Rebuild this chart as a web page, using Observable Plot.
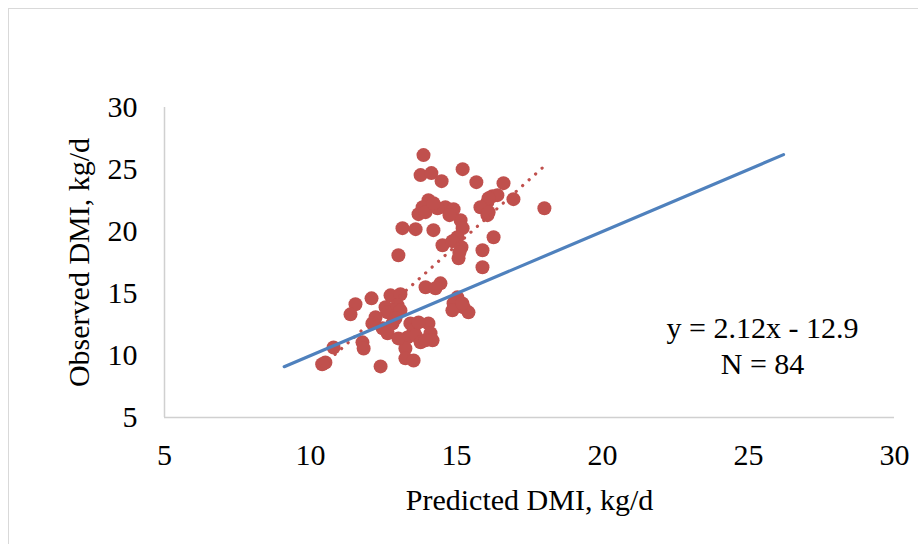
<!DOCTYPE html>
<html>
<head>
<meta charset="utf-8">
<script src="https://cdn.jsdelivr.net/npm/d3@7"></script>
<script src="https://cdn.jsdelivr.net/npm/@observablehq/plot@0.6"></script>
<style>
  html, body { margin: 0; padding: 0; background: #fff; overflow: hidden; }
  #wrap { position: relative; width: 918px; height: 544px; }
  #border { position: absolute; left: 8px; top: 8px; width: 1000px; height: 1000px;
            border: 1.5px solid #d9d9d9; box-sizing: border-box; pointer-events: none; }
</style>
</head>
<body>
<div id="wrap"><div id="border"></div></div>
<script>
// Predicted DMI (kg/d) for each observation
const predicted = [
  13.87, 13.77, 14.14, 14.49, 15.21, 15.68, 16.61, 16.95, 18.01, 16.23,
  16.40, 16.06, 16.10, 15.82, 16.06, 16.10, 14.04, 13.84, 13.70, 13.94,
  14.62, 14.90, 15.14, 15.21, 15.03, 13.15, 13.60, 14.21, 16.27, 14.52,
  14.86, 15.17, 15.07, 15.89, 15.89, 13.01, 15.10, 13.94, 14.45, 14.28,
  15.03, 14.90, 15.24, 15.41, 14.86, 12.74, 13.08, 12.09, 11.54, 11.37,
  12.57, 12.64, 12.98, 13.08, 12.23, 12.12, 12.47, 12.64, 13.42, 13.53,
  12.81, 14.04, 14.11, 14.18, 13.32, 13.25, 13.60, 13.77, 13.25, 13.53,
  12.40, 11.78, 11.82, 10.79, 10.51, 10.40, 12.91, 13.70, 14.35, 14.76,
  14.21, 13.94, 13.01, 15.20
];
// Observed DMI (kg/d)
const observed = [
  26.16, 24.55, 24.71, 24.06, 25.03, 23.98, 23.90, 22.61, 21.88, 22.85,
  22.93, 22.37, 22.69, 21.96, 21.32, 21.56, 22.53, 21.96, 21.40, 21.56,
  21.96, 21.80, 20.91, 20.27, 19.54, 20.27, 20.19, 20.11, 19.54, 18.89,
  19.22, 18.73, 17.84, 18.49, 17.12, 18.09, 18.33, 15.50, 15.82, 15.42,
  14.69, 14.21, 13.89, 13.48, 13.64, 14.85, 14.94, 14.61, 14.13, 13.32,
  13.89, 13.48, 14.05, 13.64, 13.08, 12.59, 12.19, 11.79, 12.59, 12.03,
  12.59, 12.59, 11.79, 11.22, 11.46, 10.57, 11.62, 11.06,  9.77,  9.60,
   9.12, 11.06, 10.57, 10.65,  9.44,  9.30, 13.00, 12.67, 21.88, 21.32,
  22.28, 11.22, 11.38, 14.20
];
// 1:1 line end points
const oneToOneX = [9.1, 26.2];
const oneToOneY = [9.1, 26.2];
// linear trendline end points (y = 2.12x - 12.9)
const trendX = [10.4, 18.1];
const trendY = [9.15, 25.47];
// axis ticks
const xTicks = [5, 10, 15, 20, 25, 30];
const yTicks = [5, 10, 15, 20, 25, 30];
// annotation
const noteText = ["y = 2.12x - 12.9", "N = 84"];
const noteX = [25.48, 25.48];
const noteY = [12.19, 9.32];

const points = predicted.map((p, i) => ({x: p, y: observed[i]}));
const oneToOne = oneToOneX.map((x, i) => ({x, y: oneToOneY[i]}));
const trend = trendX.map((x, i) => ({x, y: trendY[i]}));
const notes = noteText.map((t, i) => ({t, x: noteX[i], y: noteY[i]}));

const chart = Plot.plot({
  width: 918,
  height: 544,
  marginLeft: 164,
  marginRight: 24,
  marginTop: 107,
  marginBottom: 127,
  style: {fontFamily: "'Liberation Serif', 'Times New Roman', serif", fontSize: "31px", color: "#000", background: "transparent"},
  x: {domain: [5, 30]},
  y: {domain: [5, 30]},
  marks: [
    Plot.axisX({ticks: xTicks, tickSize: 0, tickPadding: 26, fontSize: 30,
      label: "Predicted DMI, kg/d", labelAnchor: "center", labelArrow: "none", labelOffset: 92}),
    Plot.axisY({ticks: yTicks, tickSize: 0, tickPadding: 27, fontSize: 30,
      label: "Observed DMI, kg/d", labelAnchor: "center", labelArrow: "none", labelOffset: 97}),
    Plot.ruleX([5], {stroke: "#d0d0d0", strokeWidth: 1.5}),
    Plot.ruleY([5], {stroke: "#d0d0d0", strokeWidth: 1.5}),
    Plot.dot(points, {x: "x", y: "y", r: 7, fill: "#C0504D", stroke: "none"}),
    Plot.line(trend, {x: "x", y: "y", stroke: "#C0504D", strokeWidth: 3.2,
      strokeDasharray: "0.1 8.6", strokeLinecap: "round"}),
    Plot.line(oneToOne, {x: "x", y: "y", stroke: "#4F81BD", strokeWidth: 3.2}),
    Plot.text(notes, {x: "x", y: "y", text: "t", fontSize: 30, fill: "#000", textAnchor: "middle"})
  ]
});
document.getElementById("wrap").appendChild(chart);
chart.style.position = "absolute";
chart.style.left = "0px";
chart.style.top = "0px";
</script>
</body>
</html>
